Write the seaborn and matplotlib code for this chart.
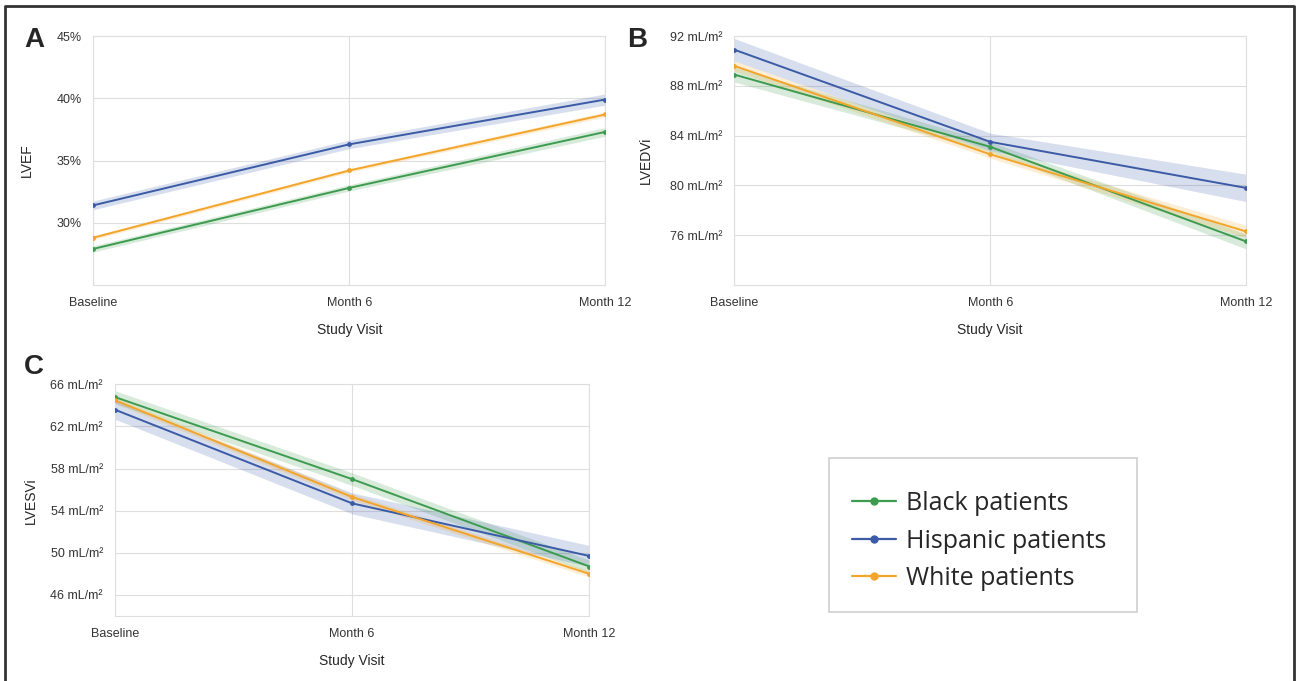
import pandas as pd
import numpy as np
import matplotlib
matplotlib.use('Agg')
import matplotlib.pyplot as plt
import seaborn as sns
from matplotlib.ticker import FuncFormatter

visits = ['Baseline', 'Month 6', 'Month 12']
groups = ['Black patients', 'Hispanic patients', 'White patients']
colors = {'Black patients': '#3d9b4f', 'Hispanic patients': '#3b5ba6', 'White patients': '#f2a52a'}

# LVEF (%)
lvef_black = [27.9, 32.8, 37.3]
lvef_black_ci = [0.25, 0.25, 0.35]
lvef_hisp = [31.4, 36.3, 39.9]
lvef_hisp_ci = [0.35, 0.35, 0.45]
lvef_white = [28.8, 34.2, 38.7]
lvef_white_ci = [0.15, 0.15, 0.2]

# LVEDVi (mL/m2)
lvedvi_black = [88.9, 83.1, 75.5]
lvedvi_black_ci = [0.6, 0.4, 0.6]
lvedvi_hisp = [90.9, 83.5, 79.8]
lvedvi_hisp_ci = [0.9, 0.7, 1.1]
lvedvi_white = [89.6, 82.5, 76.3]
lvedvi_white_ci = [0.4, 0.3, 0.5]

# LVESVi (mL/m2)
lvesvi_black = [64.8, 57.0, 48.7]
lvesvi_black_ci = [0.6, 0.6, 0.6]
lvesvi_hisp = [63.6, 54.7, 49.7]
lvesvi_hisp_ci = [0.9, 1.0, 1.0]
lvesvi_white = [64.5, 55.3, 48.0]
lvesvi_white_ci = [0.3, 0.3, 0.3]

sns.set_style('whitegrid', {'grid.color': '#dedede', 'axes.edgecolor': '#dedede'})
plt.rcParams['font.family'] = ['Liberation Sans', 'DejaVu Sans']

fig = plt.figure(figsize=(12.97, 6.81), dpi=100)
axA = fig.add_axes([0.0719, 0.5815, 0.3948, 0.3656])
axB = fig.add_axes([0.5662, 0.5815, 0.3945, 0.3656])
axC = fig.add_axes([0.0885, 0.0954, 0.3660, 0.3402])


def panel(ax, series, ylabel, ylim, yticks, fmt, ylab_x):
    rows = []
    for g, (mean, ci) in zip(groups, series):
        for v, m, c in zip(visits, mean, ci):
            rows.append({'visit': v, 'value': m, 'ci': c, 'group': g})
    df = pd.DataFrame(rows)
    df['x'] = df['visit'].map({v: i for i, v in enumerate(visits)})
    for g in groups:
        d = df[df['group'] == g]
        ax.fill_between(d['x'], d['value'] - d['ci'], d['value'] + d['ci'],
                        color=colors[g], alpha=0.2, lw=0, zorder=1)
    sns.lineplot(data=df, x='x', y='value', hue='group', palette=colors,
                 marker='o', markersize=3.5, linewidth=1.4, markeredgewidth=0,
                 ax=ax, legend=False, zorder=3)
    ax.set_xlim(0, 2)
    ax.set_xticks([0, 1, 2])
    ax.set_xticklabels(visits)
    ax.set_ylim(*ylim)
    ax.set_yticks(yticks)
    ax.yaxis.set_major_formatter(FuncFormatter(fmt))
    ax.set_xlabel('Study Visit', fontsize=10, labelpad=10)
    ax.set_ylabel(ylabel, fontsize=10)
    ax.yaxis.set_label_coords(ylab_x, 0.5)
    ax.tick_params(labelsize=9, pad=5, colors='#333333')
    for s in ax.spines.values():
        s.set_color('#dedede')


panel(axA, [(lvef_black, lvef_black_ci), (lvef_hisp, lvef_hisp_ci), (lvef_white, lvef_white_ci)],
      'LVEF', (25, 45), [30, 35, 40, 45], lambda v, p: f'{v:.0f}%', -0.115)
panel(axB, [(lvedvi_black, lvedvi_black_ci), (lvedvi_hisp, lvedvi_hisp_ci), (lvedvi_white, lvedvi_white_ci)],
      'LVEDVi', (72, 92), [76, 80, 84, 88, 92], lambda v, p: f'{v:.0f} mL/m²', -0.160)
panel(axC, [(lvesvi_black, lvesvi_black_ci), (lvesvi_hisp, lvesvi_hisp_ci), (lvesvi_white, lvesvi_white_ci)],
      'LVESVi', (44, 66), [46, 50, 54, 58, 62, 66], lambda v, p: f'{v:.0f} mL/m²', -0.163)

for x, y, t in [(24, 27, 'A'), (627, 27, 'B'), (24, 354, 'C')]:
    fig.text(x / 1297, 1 - y / 681, t, fontsize=20, fontweight='bold', va='top', ha='left')

# legend box drawn separately, entries sit a little low inside it as in the original
fig.add_artist(plt.Rectangle((829 / 1297, 1 - 612 / 681), 308 / 1297, 154 / 681,
                             transform=fig.transFigure, fill=False,
                             edgecolor='#d0d0d0', lw=1.2))
handles = [plt.Line2D([], [], color=colors[g], marker='o', markersize=5, lw=1.6) for g in groups]
fig.legend(handles, groups, loc='center', bbox_to_anchor=(979 / 1297, 1 - 541 / 681),
           prop={'family': 'Open Sans', 'size': 18}, frameon=False,
           borderpad=0, handlelength=1.75, labelspacing=0.5,
           handletextpad=0.4, borderaxespad=0)

# outer frame
fig.add_artist(plt.Line2D([0.004, 0.004, 0.9975, 0.9975], [0.0, 0.991, 0.991, 0.0],
                          transform=fig.transFigure, color='#333333', lw=2))

fig.savefig('out.png', dpi=100)
